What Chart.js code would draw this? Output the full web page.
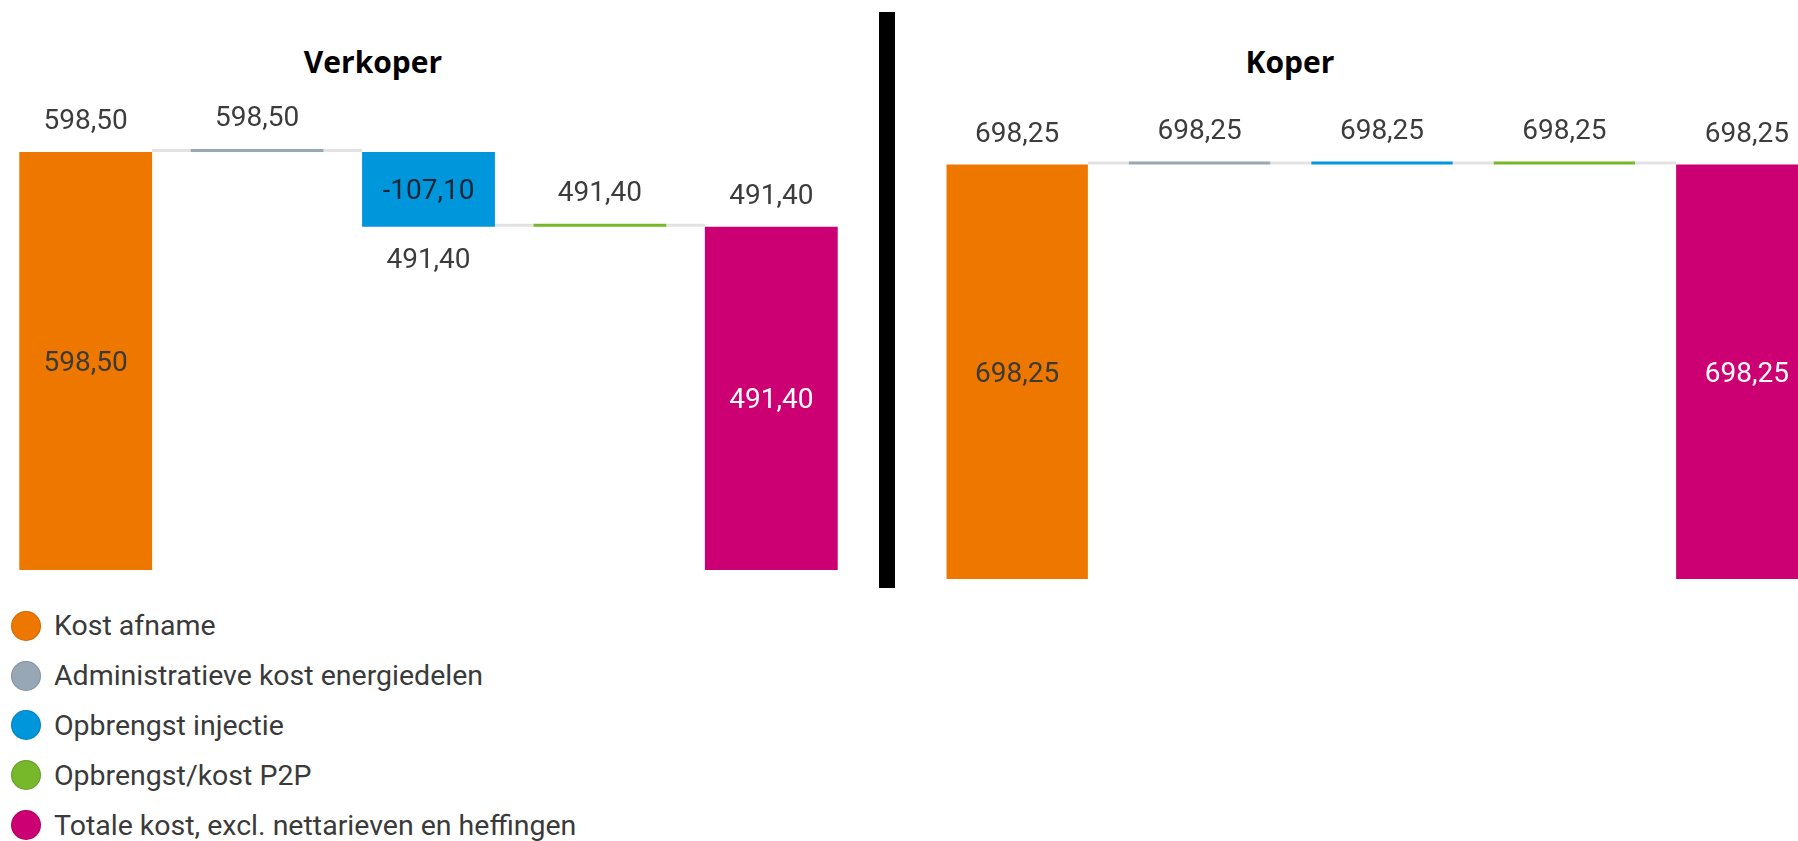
<!DOCTYPE html>
<html>
<head>
<meta charset="utf-8">
<title>Verkoper / Koper</title>
<script src="https://cdn.jsdelivr.net/npm/chart.js@4.4.1/dist/chart.umd.min.js"></script>
<style>
    html, body { margin: 0; padding: 0; background: #fff; }
    body { width: 1798px; height: 841px; overflow: hidden; position: relative; font-family: Roboto, sans-serif; }
    .chart-box { position: absolute; top: 0; }
    #boxVerkoper { left: 0; width: 860px; height: 590px; }
    #boxKoper { left: 926px; width: 912px; height: 600px; }
    .chart-title { position: absolute; top: 44px; line-height: 36px; font-family: 'Open Sans', sans-serif; font-weight: 700; font-size: 30px; color: #000; transform: translateX(-50%); white-space: nowrap; }
    #divider { position: absolute; left: 879px; top: 12px; width: 16px; height: 576px; background: #000; }
    #legend { position: absolute; left: 11px; top: 601px; }
    .legend-item { display: flex; align-items: center; height: 49.8px; font-size: 28.5px; color: #3a3a3a; white-space: nowrap; }
    .legend-dot { width: 30px; height: 30px; border-radius: 50%; margin-right: 13px; box-sizing: border-box; border: 1px solid rgba(0,0,0,0.15); flex: none; }
</style>
</head>
<body>
<div class="chart-title" style="left:373px">Verkoper</div>
<div class="chart-title" style="left:1290px">Koper</div>
<div class="chart-box" id="boxVerkoper"><canvas id="chartVerkoper"></canvas></div>
<div id="divider"></div>
<div class="chart-box" id="boxKoper"><canvas id="chartKoper"></canvas></div>
<div id="legend"></div>

<script>
// Data
const categories = ['Kost afname', 'Administratieve kost energiedelen', 'Opbrengst injectie', 'Opbrengst/kost P2P', 'Totale kost, excl. nettarieven en heffingen'];
const seriesColors = ['#EE7700', '#97A7B6', '#0096DB', '#76B82A', '#CC0073'];
const verkoperValues = [598.50, 0.00, -107.10, 0.00, 491.40];
const koperValues = [698.25, 0.00, 0.00, 0.00, 698.25];

// kleur van het label binnen in de balk
const insideLabelColors = ['#3a3a3a', null, '#1a2633', null, '#ffffff'];

function fmt(v) {
    return v.toFixed(2).replace('.', ',');
}

// stappen -> zwevende balken [start, eind], laatste = totaal vanaf 0
function toWaterfall(values) {
    let run = 0;
    return values.map((v, i) => {
        if (i === values.length - 1) return [0, v];
        const start = run;
        run += v;
        return [start, run];
    });
}

const waterfallPlugin = {
    id: 'waterfallPlugin',
    beforeDatasetsDraw(chart) {
        const { ctx } = chart;
        const meta = chart.getDatasetMeta(0);
        const data = chart.data.datasets[0].data;
        const y = chart.scales.y;
        ctx.save();
        ctx.fillStyle = '#e2e2e2';
        for (let i = 0; i < meta.data.length - 1; i++) {
            const a = meta.data[i], b = meta.data[i + 1];
            const x1 = a.x + a.width / 2;
            const x2 = b.x - b.width / 2;
            const py = y.getPixelForValue(data[i][1]);
            ctx.fillRect(x1, py - 3, x2 - x1, 3);
        }
        ctx.restore();
    },
    afterDatasetsDraw(chart, args, opts) {
        const { ctx } = chart;
        const meta = chart.getDatasetMeta(0);
        const data = chart.data.datasets[0].data;
        const dy = 3; // cijfers optisch centreren
        ctx.save();
        ctx.font = '28px Roboto';
        ctx.textAlign = 'center';
        ctx.textBaseline = 'middle';
        meta.data.forEach((bar, i) => {
            const [start, end] = data[i];
            const top = Math.min(bar.y, bar.base);
            const bottom = Math.max(bar.y, bar.base);
            ctx.fillStyle = '#3c3c3c';
            if (end < start) {
                ctx.fillText(fmt(end), bar.x, bottom + 31 + dy);
            } else {
                ctx.fillText(fmt(end), bar.x, top - 33 + dy);
            }
            if (bottom - top > 50 && insideLabelColors[i]) {
                ctx.fillStyle = insideLabelColors[i];
                ctx.fillText(fmt(opts.values[i]), bar.x, (top + bottom) / 2 + dy);
            }
        });
        ctx.restore();
    }
};

function makeChart(canvasId, values, yMax, padding) {
    const ctx = document.getElementById(canvasId).getContext('2d');
    return new Chart(ctx, {
        type: 'bar',
        data: {
            labels: categories,
            datasets: [{
                data: toWaterfall(values),
                backgroundColor: seriesColors,
                borderWidth: 0,
                minBarLength: 3,
                barPercentage: 0.775,
                categoryPercentage: 1
            }]
        },
        options: {
            responsive: true,
            maintainAspectRatio: false,
            animation: false,
            layout: { padding: padding },
            scales: {
                x: { display: false },
                y: { display: false, min: 0, max: yMax }
            },
            plugins: {
                legend: { display: false },
                tooltip: { enabled: false },
                waterfallPlugin: { values: values }
            }
        },
        plugins: [waterfallPlugin]
    });
}

makeChart('chartVerkoper', verkoperValues, 701.5, { top: 80, bottom: 20, left: 0, right: 3 });
makeChart('chartKoper', koperValues, 840.6, { top: 80, bottom: 21, left: 0, right: 0 });

// Legende
const legend = document.getElementById('legend');
legend.innerHTML = categories.map((c, i) =>
    `<div class="legend-item"><span class="legend-dot" style="background:${seriesColors[i]}"></span>${c}</div>`
).join('');
</script>
</body>
</html>
